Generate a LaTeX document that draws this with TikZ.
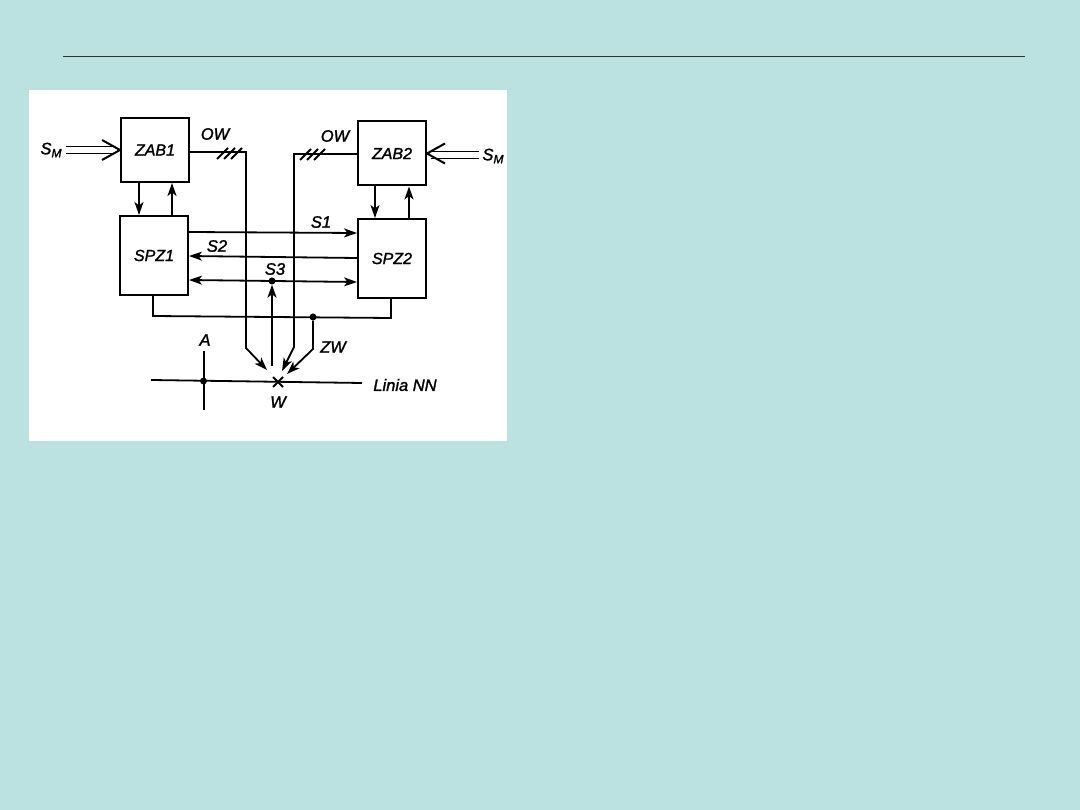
\documentclass[tikz,border=0pt]{standalone}
\usepackage{fontspec}
\setmainfont{Liberation Sans}[ItalicFeatures={FakeBold=1.6}]
\usepackage{tikz}
\usetikzlibrary{shapes, arrows.meta, positioning}
\definecolor{slidebg}{RGB}{188,225,225}
\tikzstyle{unit} = [rectangle, draw, line width=2pt, minimum width=68pt, minimum height=64pt, inner sep=0pt, font=\itshape\fontsize{16}{17}\selectfont]
\tikzstyle{tall} = [unit, minimum height=79pt]
\tikzstyle{label} = [inner sep=0pt, font=\itshape\fontsize{16.5}{17}\selectfont]
\tikzstyle{dot} = [circle, fill=black, inner sep=0pt, minimum size=7pt]
\tikzstyle{wire} = [line width=1.8pt]
\tikzstyle{reg} = [wire, ->, >={Stealth[length=13pt, width=9pt, inset=3.5pt]}]
\tikzstyle{both} = [wire, <->, >={Stealth[length=13pt, width=9pt, inset=3.5pt]}]
\tikzstyle{feed} = [line width=1.6pt, double, double distance=5.5pt]
\tikzstyle{barb} = [wire, line width=2pt]

\begin{document}
\begin{tikzpicture}[x=1pt, y=-1pt]
  \useasboundingbox (0,0) rectangle (1080,810);
  % tlo
  \fill[slidebg] (0,0) rectangle (1080,810);
  \fill[white] (29,90) rectangle (507,441);
  \draw[line width=0.8pt, black!80] (63,56.5) -- (1025,56.5);

  % bloki
  \node[unit] (ZAB1) at (155,150) {ZAB1};
  \node[tall] (SPZ1) at (154,255.5) {SPZ1};
  \node[unit] (ZAB2) at (392,153.5) {ZAB2};
  \node[tall] (SPZ2) at (392,258.5) {SPZ2};

  % opisy
  \node[label] (smL) at (51,150) {S\raisebox{-3pt}{\fontsize{12}{13}\selectfont M}};
  \node[label] (smR) at (493,156) {S\raisebox{-3pt}{\fontsize{12}{13}\selectfont M}};
  \node[label] (owL) at (215,134) {OW};
  \node[label] (owR) at (335,136) {OW};
  \node[label] (s1) at (321,222) {S1};
  \node[label] (s2) at (217,246) {S2};
  \node[label] (s3) at (275,269) {S3};
  \node[label] (zw) at (333,347) {ZW};
  \node[label] (la) at (205,340) {A};
  \node[label] (lw) at (278,402) {W};
  \node[label] (nn) at (405,385) {Linia NN};

  % punkty
  \node[dot] (d3) at (272,281) {};
  \node[dot] (dz) at (313,317) {};
  \node[dot] (da) at (203.5,381) {};
  \coordinate (wp) at (278,382);
  \coordinate (ol) at (246,152);
  \coordinate (olb) at (246,348);
  \coordinate (olt) at (267,370);
  \coordinate (or) at (294,154);
  \coordinate (orb) at (294,347);
  \coordinate (ort) at (282,371);
  \coordinate (zb) at (313,349);
  \coordinate (zt) at (287,374);
  \coordinate (s3b) at (272,366);
  \coordinate (bl) at (153,316);
  \coordinate (br) at (391,318);
  \coordinate (lnL) at (151,380);
  \coordinate (lnR) at (362,383);
  \coordinate (at) at (204,351);
  \coordinate (ab) at (204,410);

  % wejscia
  \draw[feed] (smL.east) ++(4,0) -- ++(48,0);
  \draw[barb] (ZAB1.west) ++(-18,-10) -- (ZAB1.west) -- ++(-18,10);
  \draw[feed] (smR.west) ++(-3,-1) -- ++(-48,0);
  \draw[barb] (ZAB2.east) ++(18,-10) -- (ZAB2.east) -- ++(18,10);

  % sprzezenia blokow
  \draw[reg] (ZAB1.south -| 139,0) -- (SPZ1.north -| 139,0);
  \draw[reg] (SPZ1.north -| 172,0) -- (ZAB1.south -| 172,0);
  \draw[reg] (ZAB2.south -| 375,0) -- (SPZ2.north -| 375,0);
  \draw[reg] (SPZ2.north -| 409,0) -- (ZAB2.south -| 409,0);

  % sygnaly
  \draw[reg] (SPZ1.east |- 0,232) -- (SPZ2.west |- 0,233);
  \draw[reg] (SPZ2.west |- 0,258) -- (SPZ1.east |- 0,256);
  \draw[both] (SPZ1.east |- 0,280) -- (SPZ2.west |- 0,282);

  % OW
  \draw[reg] (ZAB1.east |- ol) -- (ol) -- (olb) -- (olt);
  \draw[reg] (ZAB2.west |- or) -- (or) -- (orb) -- (ort);
  \foreach \tx in {217,224,231} \draw[wire] (\tx,159) -- ++(11,-11);
  \foreach \tx in {300,307,314} \draw[wire] (\tx,160) -- ++(11,-11);

  % ZW, S3
  \draw[wire] (SPZ1.south -| bl) -- (bl) -- (br) -- (SPZ2.south -| br);
  \draw[reg] (dz) -- (zb) -- (zt);
  \draw[reg] (s3b) -- (d3);

  % linia
  \draw[wire] (lnL) -- (lnR);
  \draw[wire] (at) -- (ab);
  \draw[wire] (wp) ++(-5,-5) -- ++(10,10);
  \draw[wire] (wp) ++(-5,5) -- ++(10,-10);
\end{tikzpicture}
\end{document}
